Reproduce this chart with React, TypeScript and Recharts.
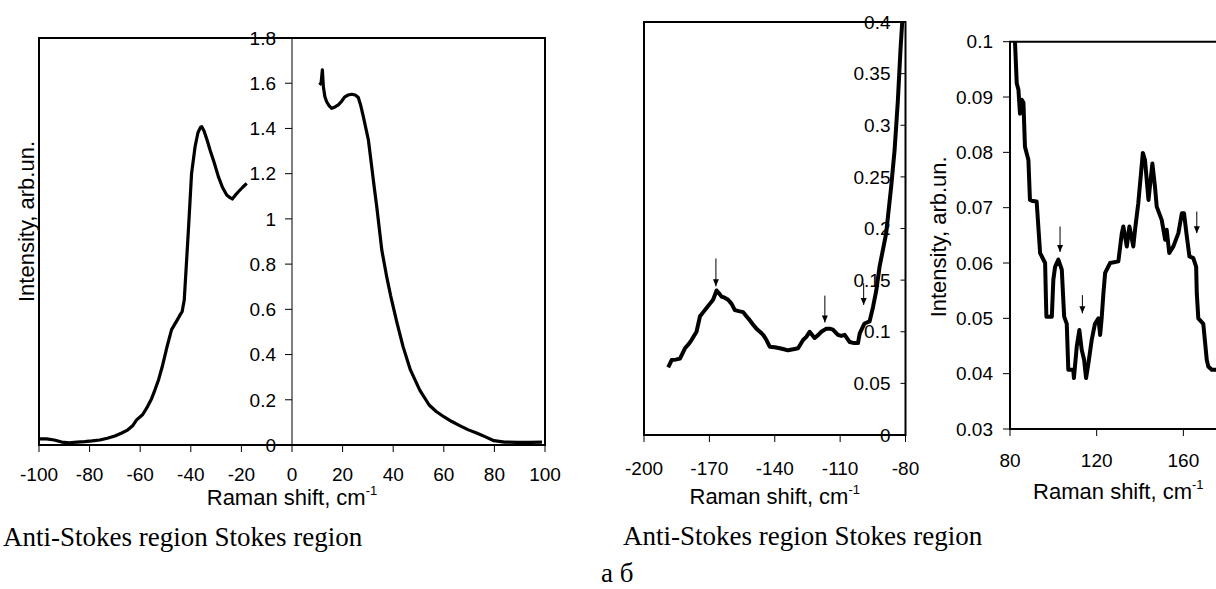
import { LineChart, Line, XAxis, YAxis, ReferenceArea, ReferenceLine, ReferenceDot, Label } from 'recharts'

const SANS = '"Liberation Sans", Arial, sans-serif'
const SERIF = '"Liberation Serif", "Times New Roman", serif'

// panel (а): whole low-frequency spectrum, anti-Stokes and Stokes wings
const antiStokesX = [-100, -97, -94, -91, -88, -85, -82, -79, -76, -73, -70, -67.3, -65, -63, -61.5, -59, -57.1, -55.5, -54.2, -52.7, -51.3, -49.5, -47.6, -45.5, -44, -43.4, -43.1, -42.6, -41.8, -41, -40.3, -39.7, -38.3, -37.2, -36.2, -35.7, -34.8, -33.6, -32.4, -30.8, -29.1, -27.5, -25.8, -24.6, -23.6, -22.4, -21.2, -19.5, -17.9]
const antiStokesY = [0.027, 0.027, 0.022, 0.013, 0.01, 0.013, 0.015, 0.018, 0.022, 0.03, 0.04, 0.053, 0.066, 0.085, 0.11, 0.135, 0.17, 0.205, 0.243, 0.29, 0.346, 0.43, 0.51, 0.55, 0.58, 0.59, 0.61, 0.64, 0.79, 0.94, 1.08, 1.2, 1.32, 1.38, 1.405, 1.408, 1.39, 1.35, 1.305, 1.25, 1.187, 1.14, 1.106, 1.095, 1.088, 1.105, 1.12, 1.14, 1.157]
const stokesX = [10.8, 11.5, 12, 12.4, 13, 13.7, 14.7, 15.7, 17, 18.3, 19.6, 20.9, 22.2, 23.6, 25, 26.2, 27.2, 28.2, 29.2, 30.2, 31.5, 32.5, 33.5, 35.5, 37.5, 39, 41.5, 43.9, 46.8, 50.5, 54.2, 57, 60, 63, 65.9, 69.5, 73.2, 76.5, 79.8, 84, 89.3, 94, 98.8]
const stokesY = [1.593, 1.6, 1.659, 1.585, 1.54, 1.518, 1.5, 1.489, 1.495, 1.504, 1.52, 1.54, 1.548, 1.551, 1.548, 1.537, 1.5, 1.452, 1.4, 1.349, 1.231, 1.14, 1.054, 0.862, 0.74, 0.66, 0.54, 0.435, 0.332, 0.243, 0.177, 0.148, 0.125, 0.105, 0.088, 0.068, 0.052, 0.036, 0.019, 0.013, 0.012, 0.012, 0.013]
const fullTicksX = [-100, -80, -60, -40, -20, 0, 20, 40, 60, 80, 100]
const fullTicksY = [0, 0.2, 0.4, 0.6, 0.8, 1, 1.2, 1.4, 1.6, 1.8]

// panel (б), left: anti-Stokes side
const wingX = [-188.9, -187.3, -185.5, -183.5, -181.2, -179.5, -178.2, -175.9, -174.3, -172.8, -171.3, -169.8, -168.3, -166.7, -165.5, -164.4, -163, -161.4, -159.8, -158.3, -156.5, -154.5, -153, -151.4, -150, -148.4, -146.8, -145.3, -143.8, -142.3, -140, -137.7, -135.8, -133.9, -131.5, -129.3, -127, -125.5, -124, -121.7, -120, -118.6, -116.3, -114.8, -113.3, -111, -109.5, -107.9, -105.6, -103.5, -101.8, -101, -98.8, -96.5, -94.9, -93.4, -91.9, -88.9, -86.6, -85, -83.5, -82.3, -81.5]
const wingY = [0.0655, 0.0726, 0.073, 0.074, 0.084, 0.088, 0.092, 0.1, 0.115, 0.119, 0.123, 0.127, 0.131, 0.14, 0.137, 0.134, 0.133, 0.131, 0.127, 0.121, 0.12, 0.119, 0.115, 0.111, 0.107, 0.103, 0.1, 0.097, 0.092, 0.0855, 0.085, 0.084, 0.083, 0.082, 0.083, 0.084, 0.092, 0.095, 0.1, 0.094, 0.097, 0.1, 0.103, 0.103, 0.102, 0.097, 0.096, 0.097, 0.09, 0.089, 0.089, 0.0985, 0.108, 0.11, 0.124, 0.14, 0.163, 0.195, 0.24, 0.276, 0.324, 0.373, 0.4]
const wingTicksX = [-200, -170, -140, -110, -80]
const wingTicksY = [0, 0.05, 0.1, 0.15, 0.2, 0.25, 0.3, 0.35, 0.4]
const wingArrowX = [-167, -117, -99.2]
const wingArrowFrom = [0.171, 0.135, 0.147]
const wingArrowTo = [0.144, 0.109, 0.126]

// panel (б), right: Stokes side
const stokesWingX = [82.3, 83.1, 83.9, 84.6, 85.4, 86.2, 86.9, 88.5, 89.2, 90.5, 92.3, 93.9, 96.2, 96.6, 96.8, 99.3, 100, 100.8, 102.3, 103.9, 104.6, 105, 106.2, 106.9, 109.2, 109.5, 110.8, 112, 113.1, 114.2, 115.1, 116.2, 117.7, 119.2, 120.8, 121.6, 122.3, 123.1, 123.9, 126.2, 130, 131.6, 132.3, 133.9, 135.1, 136.9, 137.7, 139.2, 141.3, 142.3, 143.9, 145.7, 146.9, 147.7, 150, 151.6, 152.3, 153.5, 155.4, 157.7, 159.3, 160.3, 161.6, 162.8, 164.6, 165.9, 166.2, 166.9, 169.2, 170.8, 171.5, 173.1, 175, 178]
const stokesWingY = [0.1, 0.0925, 0.0913, 0.087, 0.0895, 0.089, 0.081, 0.0786, 0.0714, 0.0712, 0.0711, 0.0618, 0.06, 0.0533, 0.0503, 0.0503, 0.057, 0.0593, 0.0606, 0.0588, 0.0533, 0.0503, 0.049, 0.0407, 0.0407, 0.0392, 0.0449, 0.0479, 0.0443, 0.0425, 0.0392, 0.0419, 0.0461, 0.049, 0.05, 0.047, 0.05, 0.0545, 0.0582, 0.06, 0.0603, 0.0654, 0.0666, 0.063, 0.0666, 0.063, 0.066, 0.0708, 0.0799, 0.0786, 0.0714, 0.078, 0.0738, 0.0702, 0.0678, 0.0642, 0.066, 0.0618, 0.063, 0.0654, 0.069, 0.069, 0.0648, 0.0612, 0.0609, 0.0593, 0.0545, 0.05, 0.049, 0.0425, 0.0413, 0.0407, 0.0407, 0.0405]
const stokesTicksX = [80, 120, 160]
const stokesTicksY = [0.03, 0.04, 0.05, 0.06, 0.07, 0.08, 0.09, 0.1]
const stokesArrowX = [103.1, 113.4, 166.2]
const stokesArrowFrom = [0.0666, 0.0542, 0.0693]
const stokesArrowTo = [0.062, 0.0509, 0.0654]

const toPoints = (xs: number[], ys: number[]) => xs.map((x, i) => ({ x, y: ys[i] }))

const tickStyle = { fill: '#000', fontSize: 19, fontFamily: SANS }

const ramanTitle = (dy: number) => (props: any) => {
  const { x, y, width } = props.viewBox
  return (
    <text x={x + width / 2} y={y + dy} textAnchor="middle" fontFamily={SANS} fontSize={22} fill="#000">
      Raman shift, cm<tspan dy={-10} fontSize={13}>-1</tspan>
    </text>
  )
}

// dx is measured from the plot's left edge (right edge of the y axis box)
const intensityTitle = (dx: number, dy: number) => (props: any) => {
  const { x, y, width, height } = props.viewBox
  const bx = x + width + dx
  const cy = y + height / 2 + dy
  return (
    <text x={bx} y={cy} transform={`rotate(-90, ${bx}, ${cy})`} textAnchor="middle" fontFamily={SANS} fontSize={22} fill="#000">
      Intensity, arb.un.
    </text>
  )
}

const arrowShape = (p: any) => (
  <g>
    <line x1={p.x1} y1={p.y1} x2={p.x2} y2={p.y2} stroke="#000" strokeWidth={1} />
    <path d={`M${p.x2 - 3},${p.y2 - 7} L${p.x2 + 3},${p.y2 - 7} L${p.x2},${p.y2} Z`} fill="#000" />
  </g>
)

function FullSpectrum() {
  return (
    <LineChart width={600} height={530} margin={{ top: 38, right: 55, bottom: 0, left: 0 }}>
      <XAxis dataKey="x" type="number" domain={[-100, 100]} ticks={fullTicksX} allowDataOverflow
        height={85} tick={tickStyle} tickSize={7} tickMargin={16} tickLine={{ stroke: '#000' }} axisLine={false} interval={0}>
        <Label content={ramanTitle(60)} />
      </XAxis>
      <YAxis type="number" domain={[0, 1.8]} width={39} tick={false} tickLine={false} axisLine={false} allowDataOverflow>
        <Label content={intensityTitle(-5.5, -20)} />
      </YAxis>
      <ReferenceArea x1={-100} x2={100} y1={0} y2={1.8} fill="none" stroke="#000" strokeWidth={2} ifOverflow="visible" />
      <ReferenceLine x={0} stroke="#000" strokeWidth={1} />
      {fullTicksY.map(t => (
        <ReferenceDot key={t} x={0} y={t} r={0} ifOverflow="visible" shape={(p: any) => (
          <g>
            <line x1={p.cx - 7} y1={p.cy} x2={p.cx} y2={p.cy} stroke="#000" />
            <text x={p.cx - 16} y={p.cy} dy="0.355em" textAnchor="end" {...tickStyle}>{t}</text>
          </g>
        )} />
      ))}
      <Line data={toPoints(antiStokesX, antiStokesY)} dataKey="y" type="linear" stroke="#000" strokeWidth={3.2}
        dot={false} isAnimationActive={false} strokeLinejoin="round" />
      <Line data={toPoints(stokesX, stokesY)} dataKey="y" type="linear" stroke="#000" strokeWidth={3.2}
        dot={false} isAnimationActive={false} strokeLinejoin="round" />
    </LineChart>
  )
}

function AntiStokesWing() {
  return (
    <LineChart width={340} height={520} margin={{ top: 22, right: 34.5, bottom: 0, left: 44 }}>
      <XAxis dataKey="x" type="number" domain={[-200, -80]} ticks={wingTicksX} allowDataOverflow
        height={85} tick={tickStyle} tickSize={7} tickMargin={20} tickLine={{ stroke: '#000' }} axisLine={false} interval={0}>
        <Label content={ramanTitle(69)} />
      </XAxis>
      <YAxis type="number" orientation="right" mirror domain={[0, 0.4]} ticks={wingTicksY} width={60} allowDataOverflow
        tick={tickStyle} tickSize={5} tickMargin={10} tickLine={{ stroke: '#000' }} axisLine={false} interval={0} />
      <ReferenceArea x1={-200} x2={-80} y1={0} y2={0.4} fill="none" stroke="#000" strokeWidth={2} ifOverflow="visible" />
      {wingArrowX.map((x, i) => (
        <ReferenceLine key={x} segment={[{ x, y: wingArrowFrom[i] }, { x, y: wingArrowTo[i] }]} shape={arrowShape} ifOverflow="visible" />
      ))}
      <Line data={toPoints(wingX, wingY)} dataKey="y" type="linear" stroke="#000" strokeWidth={4}
        dot={false} isAnimationActive={false} strokeLinejoin="round" />
    </LineChart>
  )
}

function StokesWing() {
  return (
    <LineChart width={340} height={514} margin={{ top: 41.7, right: 13.3, bottom: 0, left: 50 }}>
      <XAxis dataKey="x" type="number" domain={[80, 180]} ticks={stokesTicksX} allowDataOverflow
        height={85} tick={tickStyle} tickSize={7} tickMargin={18} tickLine={{ stroke: '#000' }} axisLine={false} interval={0}>
        <Label content={ramanTitle(70)} />
      </XAxis>
      <YAxis type="number" domain={[0.03, 0.1]} ticks={stokesTicksY} width={60} allowDataOverflow
        tick={tickStyle} tickSize={7} tickMargin={10} tickLine={{ stroke: '#000' }} axisLine={false} interval={0}>
        <Label content={intensityTitle(-63.5, 1.5)} />
      </YAxis>
      <ReferenceArea x1={80} x2={180} y1={0.03} y2={0.1} fill="none" stroke="#000" strokeWidth={2} ifOverflow="visible" />
      {stokesArrowX.map((x, i) => (
        <ReferenceLine key={x} segment={[{ x, y: stokesArrowFrom[i] }, { x, y: stokesArrowTo[i] }]} shape={arrowShape} ifOverflow="visible" />
      ))}
      <Line data={toPoints(stokesWingX, stokesWingY)} dataKey="y" type="linear" stroke="#000" strokeWidth={4}
        dot={false} isAnimationActive={false} strokeLinejoin="round" />
    </LineChart>
  )
}

export default function App() {
  return (
    <div style={{ position: 'absolute', left: 0, top: 0, width: 1216, height: 589, overflow: 'hidden', background: '#fff' }}>
      <div style={{ position: 'absolute', left: 0, top: 0 }}>
        <FullSpectrum />
      </div>
      <div style={{ position: 'absolute', left: 600, top: 0 }}>
        <AntiStokesWing />
      </div>
      <div style={{ position: 'absolute', left: 900, top: 0 }}>
        <StokesWing />
      </div>
      <svg width={1216} height={589} style={{ position: 'absolute', left: 0, top: 0, pointerEvents: 'none' }}>
        <g fontFamily={SERIF} fontSize={27} fill="#000">
          <text x={3} y={546}>Anti-Stokes region Stokes region</text>
          <text x={623} y={545}>Anti-Stokes region Stokes region</text>
          <text x={601} y={582}>а б</text>
        </g>
      </svg>
    </div>
  )
}
